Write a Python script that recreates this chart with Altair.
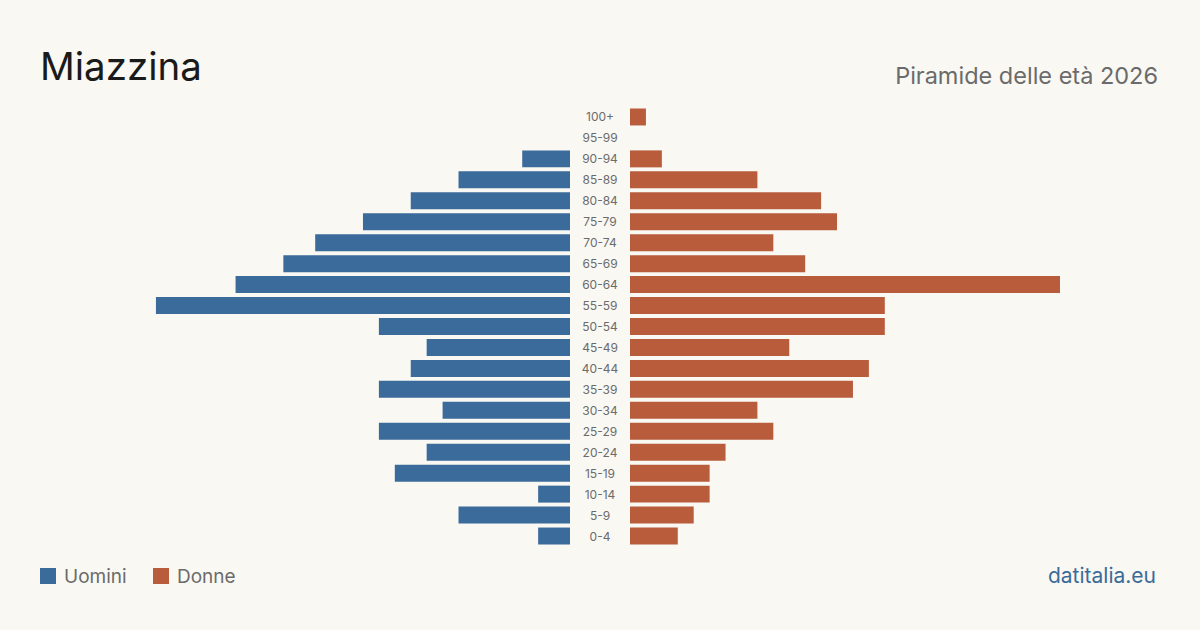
import altair as alt
import pandas as pd

# Age groups, oldest at the top
age_groups = ["100+", "95-99", "90-94", "85-89", "80-84", "75-79", "70-74",
              "65-69", "60-64", "55-59", "50-54", "45-49", "40-44", "35-39",
              "30-34", "25-29", "20-24", "15-19", "10-14", "5-9", "0-4"]
men = [0, 0, 3, 7, 10, 13, 16, 18, 21, 26, 12, 9, 10, 12, 8, 12, 9, 11, 2, 7, 2]
women = [1, 0, 2, 8, 12, 13, 9, 11, 27, 16, 16, 10, 15, 14, 8, 9, 6, 5, 5, 4, 3]

title_text = "Miazzina"
subtitle_text = "Piramide delle età 2026"
legend_labels = ["Uomini", "Donne"]
source_text = "datitalia.eu"

BLUE = "#3b6b9a"
RUST = "#b85c3c"
BG = "#f9f8f3"
GREY = "#6b6b6b"
FONT = "Inter"

df = pd.DataFrame({"age": age_groups, "men": men, "women": women})

SIDE_W = 530
MID_W = 60
H = 630
X_MAX = 33.28

# Bars occupy the band between the header and the legend
y_enc = alt.Y("age:N", sort=age_groups, axis=None,
              scale=alt.Scale(range=[106.5, 546.5],
                              paddingInner=0.19, paddingOuter=0.095))

left_bars = alt.Chart(df).mark_bar(color=BLUE).encode(
    x=alt.X("men:Q", axis=None,
            scale=alt.Scale(domain=[0, X_MAX], reverse=True, nice=False)),
    y=y_enc,
)

right_bars = alt.Chart(df).mark_bar(color=RUST).encode(
    x=alt.X("women:Q", axis=None,
            scale=alt.Scale(domain=[0, X_MAX], nice=False)),
    y=y_enc,
)

labels = alt.Chart(df).mark_text(
    font=FONT, fontSize=12, color=GREY, align="center", baseline="middle", dy=0.5
).encode(
    x=alt.value(MID_W / 2),
    y=y_enc,
    text="age:N",
)

# Header and footer text
title = alt.Chart(pd.DataFrame({"t": [title_text]})).mark_text(
    font=FONT, fontSize=38.5, color="#1a1a1a", align="left", baseline="alphabetic"
).encode(x=alt.value(0), y=alt.value(80), text="t:N")

subtitle = alt.Chart(pd.DataFrame({"t": [subtitle_text]})).mark_text(
    font=FONT, fontSize=23.5, color=GREY, align="right", baseline="alphabetic"
).encode(x=alt.value(528), y=alt.value(84), text="t:N")

source = alt.Chart(pd.DataFrame({"t": [source_text]})).mark_text(
    font=FONT, fontSize=21, color=BLUE, align="right", baseline="alphabetic"
).encode(x=alt.value(526), y=alt.value(583), text="t:N")

legend_df = pd.DataFrame({
    "label": legend_labels,
    "color": [BLUE, RUST],
    "x0": [0, 113],
})
legend_swatch = alt.Chart(legend_df).mark_rect().encode(
    x=alt.X("x0:Q", scale=None),
    x2=alt.X2("x1:Q"),
    y=alt.value(568),
    y2=alt.value(584),
    color=alt.Color("color:N", scale=None),
).transform_calculate(x1="datum.x0 + 16")
legend_text = alt.Chart(legend_df).mark_text(
    font=FONT, fontSize=19, color=GREY, align="left", baseline="alphabetic"
).encode(
    x=alt.X("xt:Q", scale=None),
    y=alt.value(583),
    text="label:N",
).transform_calculate(xt="datum.x0 + 24")

left = alt.layer(left_bars, title, legend_swatch, legend_text).properties(
    width=SIDE_W, height=H)
mid = labels.properties(width=MID_W, height=H)
right = alt.layer(right_bars, subtitle, source).properties(width=SIDE_W, height=H)

chart = alt.hconcat(left, mid, right, spacing=0).resolve_scale(
    x="independent", color="independent"
).properties(
    background=BG,
    padding={"left": 40, "top": 0, "right": 40, "bottom": 0},
).configure_view(stroke=None)

chart.save("out.html", embed_options={"renderer": "svg", "actions": False})
